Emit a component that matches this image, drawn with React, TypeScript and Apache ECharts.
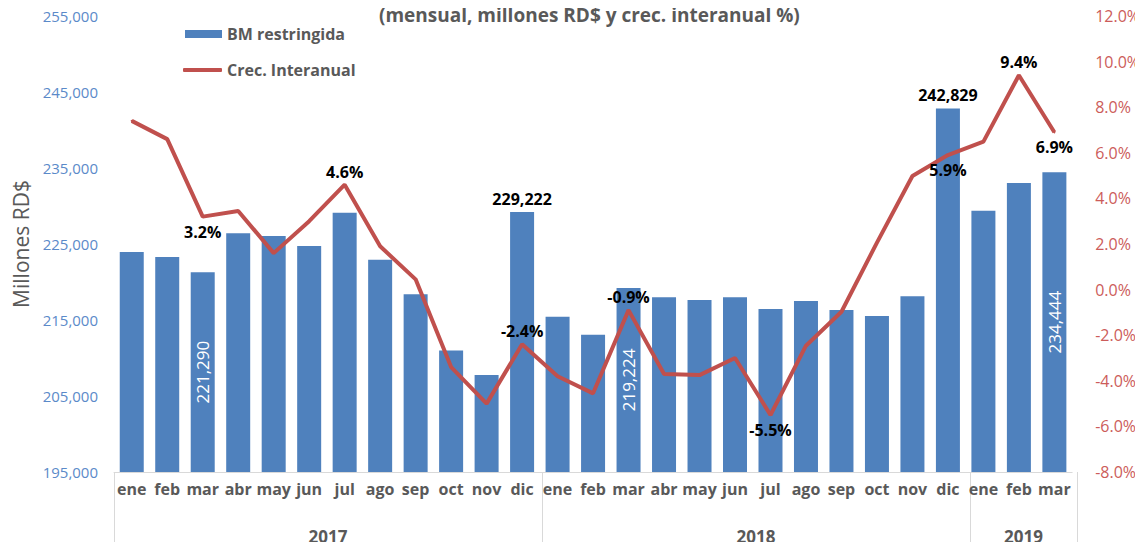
import React, { useEffect, useRef } from "react";
import * as echarts from "echarts";

const years = ["2017", "2018", "2019"];
const yearSpans = [12, 12, 3];
const monthNames = ["ene", "feb", "mar", "abr", "may", "jun", "jul", "ago", "sep", "oct", "nov", "dic"];

// BM restringida (millones RD$)
const bmValues = [
  223950, 223290, 221290, 226410, 226050, 224740, 229120, 222930, 218380, 210990, 207760, 229222,
  215440, 213070, 219224, 217990, 217630, 217990, 216450, 217500, 216320, 215530, 218120, 242829,
  229380, 233030, 234444,
];
// Crec. interanual (%)
const growthValues = [
  7.4, 6.6, 3.2, 3.45, 1.6, 3.0, 4.6, 1.9, 0.45, -3.4, -5.0, -2.4,
  -3.8, -4.55, -0.9, -3.7, -3.75, -3.0, -5.5, -2.46, -0.97, 2.06, 4.98, 5.9,
  6.49, 9.4, 6.9,
];

const barTopLabelIdx = [11, 23];
const barInsideLabelIdx = [2, 14, 26];
const lineLabelAboveIdx = [6, 11, 14, 25];
const lineLabelBelowIdx = [2, 18, 23, 26];

const leftTicks = [195000, 205000, 215000, 225000, 235000, 245000, 255000];

const FONT = "Open Sans";
const GRAY = "#595959";
const BLUE = "#4F81BD";
const BLUE_TXT = "#5B8AC9";
const RED = "#C0504D";
const RED_TXT = "#CC5C5A";

export default function App() {
  const ref = useRef<HTMLDivElement>(null);

  useEffect(() => {
    if (!ref.current) return;
    const chart = echarts.init(ref.current, undefined, { renderer: "svg" });

    const categories: string[] = [];
    yearSpans.forEach((span, yi) => {
      for (let m = 0; m < span; m++) categories.push(years[yi] + "-" + monthNames[m]);
    });

    // half-step axis for year groups
    const totalHalf = categories.length * 2;
    const halfKeys: string[] = [];
    for (let j = 0; j <= totalHalf; j++) halfKeys.push("h" + j);
    const boundaries: number[] = [0];
    const centers: Record<number, string> = {};
    let acc = 0;
    yearSpans.forEach((span, yi) => {
      centers[acc * 2 + span] = years[yi];
      acc += span;
      boundaries.push(acc * 2);
    });

    const barData = bmValues.map((v, i) => {
      let label: any = { show: false };
      if (barTopLabelIdx.includes(i)) {
        label = {
          show: true,
          position: "top",
          distance: 5,
          color: "#000",
          fontWeight: "bold",
          fontSize: 16,
          fontFamily: FONT,
          formatter: (p: any) => Number(p.value).toLocaleString("en-US"),
        };
      } else if (barInsideLabelIdx.includes(i)) {
        label = {
          show: true,
          position: "inside",
          rotate: 90,
          color: "#fff",
          fontSize: 17,
          fontFamily: FONT,
          formatter: (p: any) => Number(p.value).toLocaleString("en-US"),
        };
      }
      return { value: v, label };
    });

    const lineData = growthValues.map((v, i) => {
      let label: any = { show: false };
      const above = lineLabelAboveIdx.includes(i);
      const below = lineLabelBelowIdx.includes(i);
      if (above || below) {
        label = {
          show: true,
          position: above ? "top" : "bottom",
          distance: above ? 4 : 6,
          color: "#000",
          fontWeight: "bold",
          fontSize: 16,
          fontFamily: FONT,
          formatter: (p: any) => Number(p.value).toFixed(1) + "%",
        };
      }
      return { value: v, label };
    });

    const gridBox = { left: 114, right: 66, top: 16, bottom: 78 };
    const legendText = { color: GRAY, fontSize: 16, fontWeight: "bold", fontFamily: FONT };

    const option: any = {
      animation: false,
      title: {
        text: "(mensual, millones RD$ y crec. interanual %)",
        left: 379,
        top: 5,
        padding: 0,
        textStyle: { color: GRAY, fontSize: 19, fontWeight: "bold", fontFamily: FONT },
      },
      legend: [
        {
          left: 185,
          top: 26,
          padding: 0,
          itemWidth: 37,
          itemHeight: 8,
          textStyle: legendText,
          data: [{ name: "BM restringida", icon: "rect" }],
        },
        {
          left: 183,
          top: 62,
          padding: 0,
          itemWidth: 39,
          itemHeight: 4,
          textStyle: legendText,
          data: [{ name: "Crec. Interanual", icon: "roundRect" }],
        },
      ],
      grid: [
        { ...gridBox, containLabel: false },
        { ...gridBox, containLabel: false },
      ],
      xAxis: [
        {
          type: "category",
          gridIndex: 0,
          data: categories,
          boundaryGap: true,
          axisLine: { show: true, onZero: false, lineStyle: { color: "#D9D9D9", width: 1 } },
          axisTick: { show: false },
          axisLabel: {
            interval: 0,
            margin: 9,
            color: GRAY,
            fontSize: 16,
            fontWeight: "bold",
            fontFamily: FONT,
            formatter: (v: string) => v.split("-")[1],
          },
        },
        {
          type: "category",
          gridIndex: 1,
          data: halfKeys,
          boundaryGap: false,
          axisLine: { show: false, onZero: false },
          axisTick: {
            show: true,
            length: 80,
            interval: (idx: number) => boundaries.includes(idx),
            lineStyle: { color: "#D9D9D9", width: 1 },
          },
          axisLabel: {
            interval: (idx: number) => centers[idx] !== undefined,
            margin: 56,
            color: GRAY,
            fontSize: 17,
            fontWeight: "bold",
            fontFamily: FONT,
            formatter: (_v: string, idx: number) => centers[idx] || "",
          },
        },
      ],
      yAxis: [
        {
          type: "value",
          gridIndex: 0,
          min: 195000,
          max: 255000,
          interval: 5000,
          name: "Millones RD$",
          nameLocation: "middle",
          nameRotate: 90,
          nameGap: 79,
          nameTextStyle: { color: GRAY, fontSize: 21, fontFamily: FONT },
          axisLine: { show: false },
          axisTick: { show: false },
          splitLine: { show: false },
          axisLabel: {
            margin: 16,
            color: BLUE_TXT,
            fontSize: 15,
            fontFamily: FONT,
            formatter: (v: number) => (leftTicks.includes(v) ? v.toLocaleString("en-US") : ""),
          },
        },
        {
          type: "value",
          gridIndex: 0,
          position: "right",
          min: -8,
          max: 12,
          interval: 2,
          axisLine: { show: false },
          axisTick: { show: false },
          splitLine: { show: false },
          axisLabel: {
            margin: 23,
            color: RED_TXT,
            fontSize: 16,
            fontFamily: FONT,
            formatter: (v: number) => v.toFixed(1) + "%",
          },
        },
        {
          type: "value",
          gridIndex: 1,
          show: false,
          min: 0,
          max: 1,
        },
      ],
      series: [
        {
          name: "BM restringida",
          type: "bar",
          xAxisIndex: 0,
          yAxisIndex: 0,
          data: barData,
          barWidth: 24,
          itemStyle: { color: BLUE },
          z: 2,
        },
        {
          name: "Crec. Interanual",
          type: "line",
          xAxisIndex: 0,
          yAxisIndex: 1,
          data: lineData,
          symbol: "circle",
          symbolSize: 2,
          showSymbol: true,
          showAllSymbol: true,
          itemStyle: { color: RED },
          lineStyle: { color: RED, width: 4 },
          z: 3,
        },
      ],
    };

    chart.setOption(option);
    return () => chart.dispose();
  }, []);

  return <div ref={ref} style={{ width: 1143, height: 550, margin: -8 }} />;
}
